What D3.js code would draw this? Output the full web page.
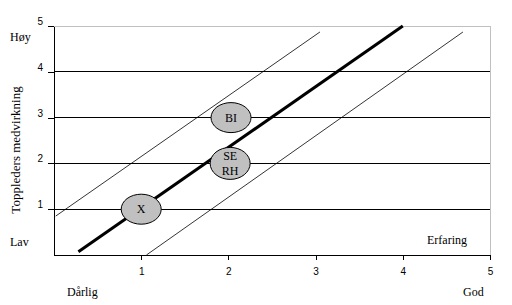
<!DOCTYPE html>
<html>
<head>
<meta charset="utf-8">
<script src="https://cdn.jsdelivr.net/npm/d3@7"></script>
<style>
  body { margin: 0; background: #fff; }
  svg { display: block; }
  .tick text { font-family: Arial, "Liberation Sans", sans-serif; font-size: 10px; }
  .lbl { font-family: "Times New Roman", "Liberation Serif", serif; font-size: 12px; }
</style>
</head>
<body>
<svg id="chart" width="512" height="305"></svg>
<script>
// Akseverdier
const xTicks = [1, 2, 3, 4, 5];
const yTicks = [1, 2, 3, 4, 5];

// Personer plassert i diagrammet
const people = [
  { label: ["X"], x: 1, y: 1 },
  { label: ["BI"], x: 2.03, y: 3 },
  { label: ["SE", "RH"], x: 2.02, y: 2 }
];

// Hovedlinje og to hjelpelinjer
const mainLine = [[0.28, 0.07], [4.0, 5.0]];
const upperLine = [[0.02, 0.85], [3.05, 4.87]];
const lowerLine = [[1.06, 0.0], [4.69, 4.87]];

const svg = d3.select('#chart');
const x = d3.scaleLinear().domain([0, 5]).range([54, 490]);
const y = d3.scaleLinear().domain([0, 5]).range([255, 26]);

// Rutenett
svg.append('g')
  .selectAll('line')
  .data([1, 2, 3, 4])
  .enter()
  .append('line')
  .attr('x1', x(0)).attr('x2', x(5))
  .attr('y1', d => y(d)).attr('y2', d => y(d))
  .attr('stroke', '#000').attr('stroke-width', 1)
  .attr('shape-rendering', 'crispEdges');

// Grå ramme topp og høyre
svg.append('path')
  .attr('d', `M${x(0)},${y(5)}H${x(5)}V${y(0)}`)
  .attr('fill', 'none').attr('stroke', '#c0c0c0')
  .attr('shape-rendering', 'crispEdges');

// Akser
const xAxis = svg.append('g')
  .attr('transform', `translate(0,${y(0)})`)
  .call(d3.axisBottom(x).tickValues(xTicks).tickSize(5).tickSizeOuter(0).tickFormat(d3.format('d')));
xAxis.selectAll('.tick text').attr('dy', '1.2em');

const yAxis = svg.append('g')
  .attr('transform', `translate(${x(0)},0)`)
  .call(d3.axisLeft(y).tickValues(yTicks).tickSize(6).tickSizeOuter(0).tickFormat(d3.format('d')));
yAxis.selectAll('.tick text').attr('x', -11).attr('dy', '-0.15em');

svg.selectAll('.domain, .tick line').attr('stroke', '#000').attr('shape-rendering', 'crispEdges');
svg.selectAll('.tick text').attr('fill', '#000');

// Linjer
const line = d3.line().x(d => x(d[0])).y(d => y(d[1]));
svg.append('path').datum(upperLine).attr('d', line)
  .attr('fill', 'none').attr('stroke', '#000').attr('stroke-width', 0.8);
svg.append('path').datum(lowerLine).attr('d', line)
  .attr('fill', 'none').attr('stroke', '#000').attr('stroke-width', 0.8);
svg.append('path').datum(mainLine).attr('d', line)
  .attr('fill', 'none').attr('stroke', '#000').attr('stroke-width', 3);

// Ellipser
const p = svg.append('g')
  .selectAll('g')
  .data(people)
  .enter()
  .append('g')
  .attr('transform', d => `translate(${x(d.x)},${y(d.y)})`);

p.append('ellipse')
  .attr('rx', 20)
  .attr('ry', d => d.label.length > 1 ? 16 : 15)
  .attr('fill', '#c0c0c0')
  .attr('stroke', '#000').attr('stroke-width', 1);

p.each(function(d) {
  const g = d3.select(this);
  const n = d.label.length;
  d.label.forEach((t, i) => {
    g.append('text')
      .attr('class', 'lbl')
      .attr('text-anchor', 'middle')
      .attr('y', (i - (n - 1) / 2) * 15 + 4)
      .text(t);
  });
});

// Tekster
const labels = [
  { t: 'Høy', x: 10, y: 41 },
  { t: 'Lav', x: 10, y: 246 },
  { t: 'Dårlig', x: 67, y: 296 },
  { t: 'God', x: 463, y: 296 },
  { t: 'Erfaring', x: 427, y: 244 }
];
svg.append('g')
  .selectAll('text')
  .data(labels)
  .enter()
  .append('text')
  .attr('class', 'lbl')
  .attr('x', d => d.x).attr('y', d => d.y)
  .text(d => d.t);

svg.append('text')
  .attr('class', 'lbl')
  .attr('text-anchor', 'middle')
  .style('font-size', '13px')
  .attr('transform', 'translate(20,150) rotate(-90)')
  .text('Toppleders medvirkning');
</script>
</body>
</html>
